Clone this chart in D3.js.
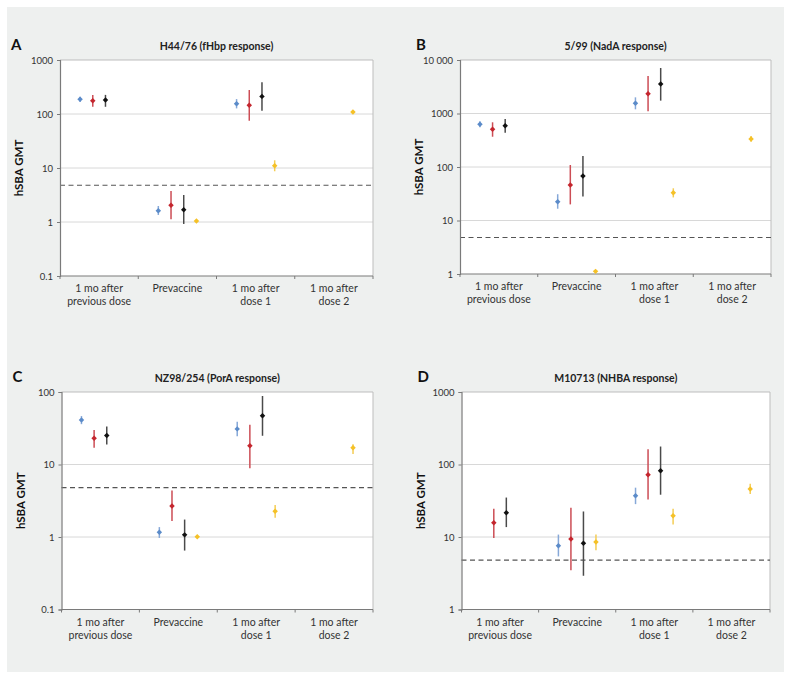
<!DOCTYPE html>
<html>
<head>
<meta charset="utf-8">
<script src="https://cdn.jsdelivr.net/npm/d3@7/dist/d3.min.js"></script>
<style>
  html, body { margin: 0; padding: 0; background: #ffffff; }
  svg { display: block; }
  text { font-family: "Lato", "Open Sans", "DejaVu Sans", sans-serif; }
</style>
</head>
<body>
<svg id="chart" width="791" height="679"></svg>
<script>
// ---------------- DATA ----------------
const categories = [["1 mo after", "previous dose"], ["Prevaccine"], ["1 mo after", "dose 1"], ["1 mo after", "dose 2"]];
const seriesNames = ["blue", "red", "black", "yellow"];
const seriesColors = ["#5b8bc9", "#c4262e", "#111111", "#f5c127"];
const barColors = ["#86a8d8", "#cc4d55", "#4a4a4a", "#f4cd55"];
const lloq = 4.8;

const panelLetters = ["A", "B", "C", "D"];
const panelTitles = ["H44/76 (fHbp response)", "5/99 (NadA response)", "NZ98/254 (PorA response)", "M10713 (NHBA response)"];
const tickValuesA = [0.1, 1, 10, 100, 1000];
const tickLabelsA = ["0.1", "1", "10", "100", "1000"];
const tickValuesB = [1, 10, 100, 1000, 10000];
const tickLabelsB = ["1", "10", "100", "1000", "10 000"];
const tickValuesC = [0.1, 1, 10, 100];
const tickLabelsC = ["0.1", "1", "10", "100"];
const tickValuesD = [1, 10, 100, 1000];
const tickLabelsD = ["1", "10", "100", "1000"];

// each entry per category: [GMT, lower CI, upper CI] or null
const aBlue   = [[187, 166, 209], [1.62, 1.35, 1.98], [155, 127, 189], null];
const aRed    = [[176, 136, 224], [2.04, 1.12, 3.75], [145, 75, 278], null];
const aBlack  = [[181, 136, 226], [1.69, 0.92, 3.16], [212, 115, 386], null];
const aYellow = [null, [1.04, 1.0, 1.1], [11, 8.7, 13.9], [109, 104, 115]];

const bBlue   = [[628, 552, 714], [22.5, 16.6, 31], [1550, 1197, 2005], null];
const bRed    = [[507, 368, 685], [46, 20, 109], [2345, 1100, 5030], null];
const bBlack  = [[591, 438, 789], [68, 28, 160], [3560, 1740, 7080], null];
const bYellow = [null, [1.12, 1.08, 1.17], [33, 27, 40], [334, 297, 380]];

const cBlue   = [[41, 36, 46.6], [1.16, 0.97, 1.37], [31, 24.6, 39], null];
const cRed    = [[23.1, 17, 30], [2.68, 1.66, 4.37], [18.1, 8.9, 35.3], null];
const cBlack  = [[25.2, 18.9, 33.5], [1.07, 0.65, 1.74], [47, 24.9, 88], null];
const cYellow = [null, [1.01, 0.98, 1.04], [2.26, 1.85, 2.77], [17, 14, 19.1]];

const dBlue   = [null, [7.6, 5.4, 10.8], [37, 28.4, 47.9], null];
const dRed    = [[15.7, 9.7, 24.5], [9.4, 3.47, 25.3], [72.4, 33, 162], null];
const dBlack  = [[21.6, 13.7, 35], [8.2, 2.92, 22.5], [82.2, 38.3, 177], null];
const dYellow = [null, [8.55, 6.56, 10.8], [19.6, 14.9, 24.5], [45.8, 39.1, 54.3]];

// ---------------- LAYOUT ----------------
const panels = [
  { letter: panelLetters[0], title: panelTitles[0], ticks: tickValuesA, labels: tickLabelsA,
    series: [aBlue, aRed, aBlack, aYellow], box: { x0: 60, x1: 373, y0: 60, y1: 276 } },
  { letter: panelLetters[1], title: panelTitles[1], ticks: tickValuesB, labels: tickLabelsB,
    series: [bBlue, bRed, bBlack, bYellow], box: { x0: 460, x1: 771, y0: 60, y1: 274 } },
  { letter: panelLetters[2], title: panelTitles[2], ticks: tickValuesC, labels: tickLabelsC,
    series: [cBlue, cRed, cBlack, cYellow], box: { x0: 61.5, x1: 373, y0: 392, y1: 609.5 } },
  { letter: panelLetters[3], title: panelTitles[3], ticks: tickValuesD, labels: tickLabelsD,
    series: [dBlue, dRed, dBlack, dYellow], box: { x0: 461.5, x1: 770, y0: 392, y1: 609.5 } }
];

const svg = d3.select("#chart");
svg.append("rect").attr("x", 7).attr("y", 7).attr("width", 777).attr("height", 665).attr("fill", "#eef0ef");

panels.forEach(p => {
  const b = p.box;
  const g = svg.append("g");
  const x = d3.scaleBand().domain(d3.range(categories.length)).range([b.x0, b.x1]).paddingInner(0).paddingOuter(0);
  const xs = d3.scalePoint().domain(seriesNames).range([0, x.bandwidth()]).padding(1.58);
  const y = d3.scaleLog().domain([p.ticks[0], p.ticks[p.ticks.length - 1]]).range([b.y1, b.y0]);

  // plot background
  g.append("rect").attr("x", b.x0).attr("y", b.y0).attr("width", b.x1 - b.x0).attr("height", b.y1 - b.y0)
    .attr("fill", "#ffffff");

  // grid lines
  g.selectAll(".grid").data(p.ticks.slice(1, -1)).join("line")
    .attr("x1", b.x0).attr("x2", b.x1)
    .attr("y1", d => y(d)).attr("y2", d => y(d))
    .attr("stroke", "#d8d8d8").attr("stroke-width", 1);

  // top & right frame
  g.append("line").attr("x1", b.x0).attr("x2", b.x1).attr("y1", b.y0).attr("y2", b.y0)
    .attr("stroke", "#bdbdbd").attr("stroke-width", 1);
  g.append("line").attr("x1", b.x1).attr("x2", b.x1).attr("y1", b.y0).attr("y2", b.y1)
    .attr("stroke", "#bdbdbd").attr("stroke-width", 1);

  // LLOQ dashed line
  g.append("line").attr("x1", b.x0).attr("x2", b.x1).attr("y1", y(lloq)).attr("y2", y(lloq))
    .attr("stroke", "#555555").attr("stroke-width", 1.1).attr("stroke-dasharray", "5,3.5");

  // y axis
  const yAxis = d3.axisLeft(y).tickValues(p.ticks).tickFormat((d, i) => p.labels[i]).tickSize(3).tickPadding(4);
  const ya = g.append("g").attr("transform", `translate(${b.x0},0)`).call(yAxis);
  ya.select(".domain").attr("stroke", "#7a7a7a").attr("stroke-width", 1.2);
  ya.selectAll(".tick line").attr("stroke", "#7a7a7a");
  ya.selectAll(".tick text").attr("fill", "#333333").style("font-size", "9.5px");

  // x axis (ticks at category boundaries)
  const boundaries = d3.range(categories.length + 1).map(i => b.x0 + i * x.step());
  g.append("line").attr("x1", b.x0).attr("x2", b.x1).attr("y1", b.y1).attr("y2", b.y1)
    .attr("stroke", "#7a7a7a").attr("stroke-width", 1.2);
  g.selectAll(".xt").data(boundaries).join("line")
    .attr("x1", d => d).attr("x2", d => d).attr("y1", b.y1).attr("y2", b.y1 + 3)
    .attr("stroke", "#7a7a7a").attr("stroke-width", 1);

  // category labels
  categories.forEach((lines, i) => {
    const t = g.append("text").attr("x", x(i) + x.bandwidth() / 2).attr("y", b.y1 + 16)
      .attr("text-anchor", "middle").attr("fill", "#333333").style("font-size", "10.5px");
    lines.forEach((ln, j) => {
      t.append("tspan").attr("x", x(i) + x.bandwidth() / 2).attr("dy", j === 0 ? 0 : 13).text(ln);
    });
  });

  // error bars & markers
  p.series.forEach((arr, si) => {
    arr.forEach((v, ci) => {
      if (!v) return;
      const cx = x(ci) + xs(seriesNames[si]);
      g.append("line").attr("x1", cx).attr("x2", cx).attr("y1", y(v[1])).attr("y2", y(v[2]))
        .attr("stroke", barColors[si]).attr("stroke-width", 1.5);
      g.append("path").attr("d", d3.symbol(d3.symbolSquare, 15)())
        .attr("transform", `translate(${cx},${y(v[0])}) rotate(45)`)
        .attr("fill", seriesColors[si]);
    });
  });

  // title
  g.append("text").attr("x", (b.x0 + b.x1) / 2).attr("y", b.y0 - 10)
    .attr("text-anchor", "middle").attr("font-weight", "bold").attr("fill", "#222222")
    .style("font-size", "10.5px").text(p.title);

  // panel letter
  g.append("text").attr("x", b.x0 - 49 + (p.letter === "B" || p.letter === "D" ? 5 : 0)).attr("y", b.y0 - 10)
    .attr("font-weight", "bold").attr("fill", "#111111").style("font-size", "15px").text(p.letter);

  // y label
  const ly = (b.y0 + b.y1) / 2;
  const lx = b.x0 - 37;
  g.append("text").attr("transform", `translate(${lx},${ly}) rotate(-90)`)
    .attr("text-anchor", "middle").attr("font-weight", "bold").attr("fill", "#111111")
    .style("font-size", "11.5px").text("hSBA GMT");
});
</script>
</body>
</html>
